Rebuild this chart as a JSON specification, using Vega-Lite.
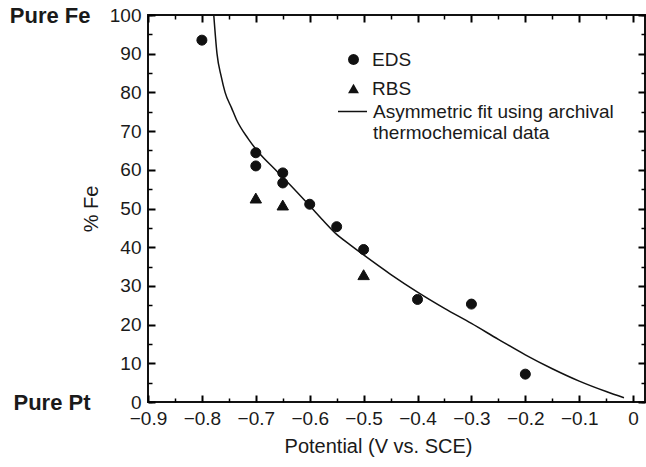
{
  "$schema": "https://vega.github.io/schema/vega-lite/v6.json",
  "autosize": "none",
  "width": 497,
  "height": 387,
  "padding": {"left": 148, "top": 15, "right": 1, "bottom": 65},
  "background": "white",
  "config": {
    "font": "Liberation Sans",
    "view": {"stroke": "#111", "strokeWidth": 2},
    "axis": {"labelFont": "Liberation Sans", "titleFont": "Liberation Sans", "labelColor": "#1a1a1a", "titleColor": "#1a1a1a", "titleFontWeight": "normal"}
  },
  "datasets": {
    "fit": [
      {"potential": -0.778, "fe": 100, "fit": "Asymmetric fit"},
      {"potential": -0.772, "fe": 90, "fit": "Asymmetric fit"},
      {"potential": -0.764, "fe": 84, "fit": "Asymmetric fit"},
      {"potential": -0.757, "fe": 80, "fit": "Asymmetric fit"},
      {"potential": -0.745, "fe": 76, "fit": "Asymmetric fit"},
      {"potential": -0.736, "fe": 73, "fit": "Asymmetric fit"},
      {"potential": -0.714, "fe": 68, "fit": "Asymmetric fit"},
      {"potential": -0.693, "fe": 64.2, "fit": "Asymmetric fit"},
      {"potential": -0.665, "fe": 60.2, "fit": "Asymmetric fit"},
      {"potential": -0.637, "fe": 56.2, "fit": "Asymmetric fit"},
      {"potential": -0.6, "fe": 50.7, "fit": "Asymmetric fit"},
      {"potential": -0.575, "fe": 46.9, "fit": "Asymmetric fit"},
      {"potential": -0.55, "fe": 43.3, "fit": "Asymmetric fit"},
      {"potential": -0.525, "fe": 40.6, "fit": "Asymmetric fit"},
      {"potential": -0.5, "fe": 38, "fit": "Asymmetric fit"},
      {"potential": -0.45, "fe": 33, "fit": "Asymmetric fit"},
      {"potential": -0.4, "fe": 28.4, "fit": "Asymmetric fit"},
      {"potential": -0.35, "fe": 24.2, "fit": "Asymmetric fit"},
      {"potential": -0.3, "fe": 20.3, "fit": "Asymmetric fit"},
      {"potential": -0.25, "fe": 16.2, "fit": "Asymmetric fit"},
      {"potential": -0.2, "fe": 12.2, "fit": "Asymmetric fit"},
      {"potential": -0.15, "fe": 8.6, "fit": "Asymmetric fit"},
      {"potential": -0.1, "fe": 5.4, "fit": "Asymmetric fit"},
      {"potential": -0.05, "fe": 2.7, "fit": "Asymmetric fit"},
      {"potential": -0.017, "fe": 1.1, "fit": "Asymmetric fit"}
    ],
    "eds": [
      {"potential": -0.8, "fe": 93.5, "series": "EDS"},
      {"potential": -0.7, "fe": 64.4, "series": "EDS"},
      {"potential": -0.7, "fe": 61.0, "series": "EDS"},
      {"potential": -0.65, "fe": 59.2, "series": "EDS"},
      {"potential": -0.65, "fe": 56.6, "series": "EDS"},
      {"potential": -0.6, "fe": 51.1, "series": "EDS"},
      {"potential": -0.55, "fe": 45.3, "series": "EDS"},
      {"potential": -0.5, "fe": 39.4, "series": "EDS"},
      {"potential": -0.4, "fe": 26.5, "series": "EDS"},
      {"potential": -0.3, "fe": 25.3, "series": "EDS"},
      {"potential": -0.2, "fe": 7.2, "series": "EDS"}
    ],
    "rbs": [
      {"potential": -0.7, "fe": 52.7, "series": "RBS"},
      {"potential": -0.65, "fe": 50.9, "series": "RBS"},
      {"potential": -0.5, "fe": 32.9, "series": "RBS"}
    ]
  },
  "resolve": {"axis": {"x": "independent", "y": "independent"}},
  "layer": [
    {
      "data": {"name": "fit"},
      "mark": {"type": "line", "strokeWidth": 1.5, "interpolate": "monotone", "clip": true},
      "encoding": {
        "x": {"field": "potential", "type": "quantitative",
          "scale": {"domain": [-0.9, 0.022], "nice": false, "zero": false},
          "axis": {"orient": "bottom", "title": "Potential (V vs. SCE)", "titleFontSize": 20, "titlePadding": 8, "titleX": 230,
            "values": [-0.9,-0.8,-0.7,-0.6,-0.5,-0.4,-0.3,-0.2,-0.1,0],
            "labelExpr": "datum.value == 0 ? '0' : '\u2212' + format(abs(datum.value), '.1f')",
            "labelFontSize": 19, "labelPadding": 7, "labelFlush": false, "ticks": false, "domain": false,
            "grid": true, "gridColor": "black", "gridWidth": 2, "gridOpacity": 1, "gridDash": [7, 373, 7, 1000]}},
        "y": {"field": "fe", "type": "quantitative",
          "scale": {"domain": [0, 100], "nice": false},
          "axis": {"orient": "left", "title": "% Fe", "titleFontSize": 20, "titlePadding": 8,
            "values": [0,10,20,30,40,50,60,70,80,90,100],
            "labelFontSize": 19, "labelPadding": 7, "labelFlush": false, "ticks": false, "domain": false,
            "grid": true, "gridColor": "black", "gridWidth": 2, "gridOpacity": 1, "gridDash": [7, 483, 7, 1000]}},
        "color": {"field": "fit", "type": "nominal",
          "scale": {"range": ["#111"]},
          "legend": {"title": null, "orient": "none", "legendX": 189, "legendY": 81, "padding": 0,
            "symbolType": "stroke", "symbolSize": 841, "symbolStrokeWidth": 1.5, "symbolStrokeColor": "#111",
            "labelFontSize": 19, "labelColor": "#1a1a1a", "labelOffset": 5, "labelLimit": 0,
            "labelExpr": "['Asymmetric fit using archival', 'thermochemical data']"}}
      }
    },
    {
      "data": {"name": "eds"},
      "mark": {"type": "point", "filled": true, "color": "#111", "stroke": "#111", "strokeWidth": 1, "opacity": 1, "size": 100},
      "encoding": {
        "x": {"field": "potential", "type": "quantitative",
          "axis": {"orient": "bottom", "title": null, "labels": false, "ticks": false, "domain": false,
            "values": [-0.85,-0.75,-0.65,-0.55,-0.45,-0.35,-0.25,-0.15,-0.05],
            "grid": true, "gridColor": "black", "gridWidth": 1.5, "gridOpacity": 1, "gridDash": [4, 379, 4, 1000]}},
        "y": {"field": "fe", "type": "quantitative",
          "axis": {"orient": "left", "title": null, "ticks": false, "domain": false,
            "values": [0,5,15,25,35,45,55,65,75,85,95,100],
            "labelExpr": "datum.value == 100 ? 'Pure Fe' : (datum.value == 0 ? 'Pure Pt' : '')",
            "labelFontSize": 22, "labelFontWeight": "bold", "labelPadding": 58, "labelFlush": false, "labelColor": "#1a1a1a",
            "grid": true, "gridColor": "black", "gridWidth": 1.5, "gridOpacity": 1, "gridDash": [4, 489, 4, 1000]}},
        "shape": {"field": "series", "type": "nominal",
          "scale": {"domain": ["EDS", "RBS"], "range": ["circle", "triangle-up"]},
          "legend": {"title": null, "orient": "none", "legendX": 196, "legendY": 35, "padding": 0,
            "symbolSize": 120, "symbolFillColor": "#111", "symbolStrokeColor": "#111", "symbolStrokeWidth": 1,
            "labelFontSize": 19, "labelColor": "#1a1a1a", "labelOffset": 9, "rowPadding": 9, "labelLimit": 0}}
      }
    },
    {
      "data": {"name": "rbs"},
      "mark": {"type": "point", "filled": true, "color": "#111", "stroke": "#111", "strokeWidth": 1, "opacity": 1, "size": 130},
      "encoding": {
        "x": {"field": "potential", "type": "quantitative", "axis": null},
        "y": {"field": "fe", "type": "quantitative", "axis": null},
        "shape": {"field": "series", "type": "nominal"}
      }
    }
  ]
}
